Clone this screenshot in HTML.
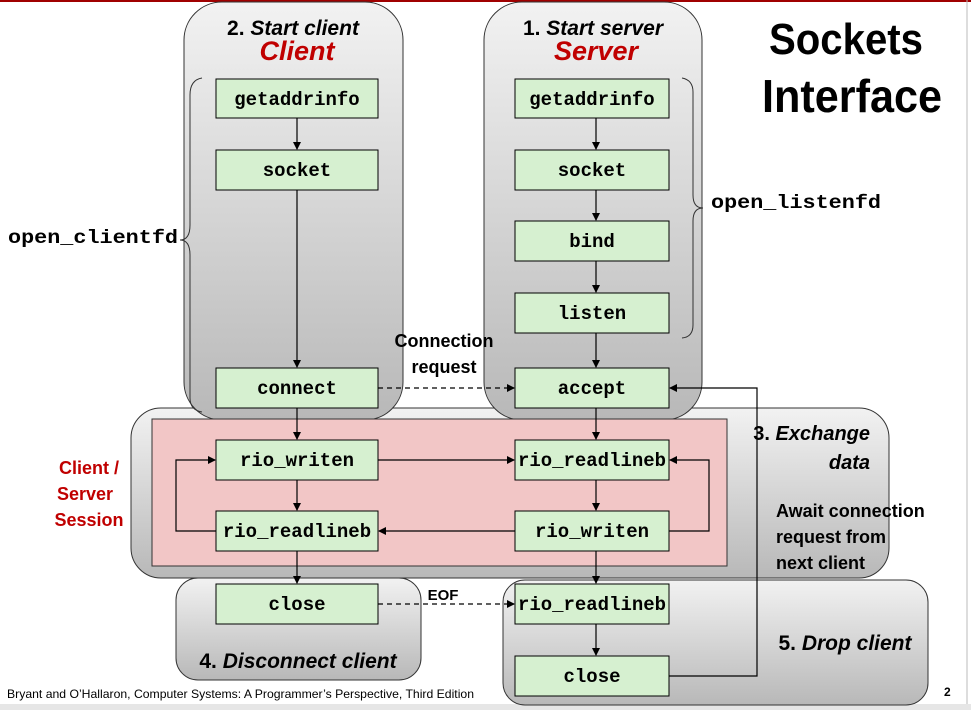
<!DOCTYPE html>
<html><head><meta charset="utf-8"><style>
html,body{margin:0;padding:0;background:#fff}
svg{display:block}
.m{font-family:"Liberation Mono",monospace;font-weight:bold;font-size:19px;fill:#000}
.s{font-family:"Liberation Sans",sans-serif;font-weight:bold;fill:#000}
</style></head><body>
<svg width="971" height="710" viewBox="0 0 971 710" xmlns="http://www.w3.org/2000/svg">
<defs>
<linearGradient id="g" x1="0" y1="0" x2="0" y2="1">
<stop offset="0" stop-color="#f2f2f2"/><stop offset="1" stop-color="#b8b8b8"/>
</linearGradient>
<marker id="a" markerWidth="8" markerHeight="8" refX="7" refY="4" orient="auto" markerUnits="userSpaceOnUse">
<path d="M0,0 L8,4 L0,8 z" fill="#000"/></marker>
</defs>
<rect x="0" y="0" width="971" height="2" fill="#a00000"/>
<rect x="0" y="704" width="971" height="6" fill="#e6e6e6"/>
<line x1="967" y1="0" x2="967" y2="704" stroke="#bbb"/>

<rect x="131" y="408" width="758" height="170" rx="30" fill="url(#g)" stroke="#333"/>
<rect x="184" y="2" width="219" height="418" rx="38" fill="url(#g)" stroke="#333"/>
<rect x="484" y="2" width="218" height="418" rx="38" fill="url(#g)" stroke="#333"/>
<rect x="152" y="419" width="575" height="147" fill="#f2c6c6" stroke="#333"/>
<rect x="176" y="578" width="245" height="102" rx="22" fill="url(#g)" stroke="#333"/>
<rect x="503" y="580" width="425" height="125" rx="22" fill="url(#g)" stroke="#333"/>

<text x="293" y="35" class="s" font-size="21" text-anchor="middle">2. <tspan font-style="italic">Start client</tspan></text>
<text x="297" y="60" class="s" font-size="27" font-style="italic" style="fill:#c00000" text-anchor="middle">Client</text>
<text x="593" y="35" class="s" font-size="21" text-anchor="middle">1. <tspan font-style="italic">Start server</tspan></text>
<text x="596" y="60" class="s" font-size="27" font-style="italic" style="fill:#c00000" text-anchor="middle">Server</text>
<text x="846" y="54" class="s" font-size="44" text-anchor="middle" textLength="154" lengthAdjust="spacingAndGlyphs">Sockets</text>
<text x="852" y="112" class="s" font-size="46" text-anchor="middle" textLength="180" lengthAdjust="spacingAndGlyphs">Interface</text>

<path d="M202,78 Q190,80 190,95 L190,225 Q190,240 180,240 Q190,240 190,255 L190,398 Q190,410 202,412" fill="none" stroke="#333"/>
<path d="M682,78 Q693,80 693,92 L693,195 Q693,208 703,208 Q693,208 693,221 L693,325 Q693,337 682,338" fill="none" stroke="#333"/>
<text x="8" y="243" class="m" font-size="21" textLength="170" lengthAdjust="spacingAndGlyphs">open_clientfd</text>
<text x="711" y="208" class="m" font-size="21" textLength="170" lengthAdjust="spacingAndGlyphs">open_listenfd</text>

<text x="89" y="474" class="s" font-size="18" style="fill:#c00000" text-anchor="middle">Client /</text>
<text x="85" y="500" class="s" font-size="18" style="fill:#c00000" text-anchor="middle">Server</text>
<text x="89" y="526" class="s" font-size="18" style="fill:#c00000" text-anchor="middle">Session</text>
<text x="444" y="347" class="s" font-size="18" text-anchor="middle">Connection</text>
<text x="444" y="373" class="s" font-size="18" text-anchor="middle">request</text>
<text x="870" y="440" class="s" font-size="20" text-anchor="end">3. <tspan font-style="italic">Exchange</tspan></text>
<text x="870" y="469" class="s" font-size="20" font-style="italic" text-anchor="end">data</text>
<text x="776" y="517" class="s" font-size="18">Await connection</text>
<text x="776" y="543" class="s" font-size="18">request from</text>
<text x="776" y="569" class="s" font-size="18">next client</text>
<text x="443" y="600" class="s" font-size="15" text-anchor="middle">EOF</text>
<text x="298" y="668" class="s" font-size="21" text-anchor="middle">4. <tspan font-style="italic">Disconnect client</tspan></text>
<text x="845" y="650" class="s" font-size="21" text-anchor="middle">5. <tspan font-style="italic">Drop client</tspan></text>
<text x="7" y="698" font-family="Liberation Sans,sans-serif" font-size="12" textLength="467" lengthAdjust="spacingAndGlyphs">Bryant and O’Hallaron, Computer Systems: A Programmer’s Perspective, Third Edition</text>
<text x="944" y="696" class="s" font-size="12">2</text>

<g stroke="#000" stroke-width="1.2" fill="none">
<line x1="297" y1="118" x2="297" y2="149" marker-end="url(#a)"/>
<line x1="297" y1="190" x2="297" y2="367" marker-end="url(#a)"/>
<line x1="297" y1="408" x2="297" y2="439" marker-end="url(#a)"/>
<line x1="297" y1="480" x2="297" y2="510" marker-end="url(#a)"/>
<line x1="297" y1="551" x2="297" y2="583" marker-end="url(#a)"/>
<line x1="596" y1="118" x2="596" y2="149" marker-end="url(#a)"/>
<line x1="596" y1="190" x2="596" y2="220" marker-end="url(#a)"/>
<line x1="596" y1="261" x2="596" y2="292" marker-end="url(#a)"/>
<line x1="596" y1="333" x2="596" y2="367" marker-end="url(#a)"/>
<line x1="596" y1="408" x2="596" y2="439" marker-end="url(#a)"/>
<line x1="596" y1="480" x2="596" y2="510" marker-end="url(#a)"/>
<line x1="596" y1="551" x2="596" y2="583" marker-end="url(#a)"/>
<line x1="596" y1="624" x2="596" y2="655" marker-end="url(#a)"/>
<line x1="378" y1="460" x2="514" y2="460" marker-end="url(#a)"/>
<line x1="515" y1="531" x2="379" y2="531" marker-end="url(#a)"/>
<polyline points="216,531 176,531 176,460 215,460" marker-end="url(#a)"/>
<polyline points="669,531 709,531 709,460 670,460" marker-end="url(#a)"/>
<polyline points="669,676 757,676 757,388 670,388" marker-end="url(#a)"/>
<line x1="378" y1="388" x2="514" y2="388" stroke-dasharray="5,4" marker-end="url(#a)"/>
<line x1="378" y1="604" x2="514" y2="604" stroke-dasharray="5,4" marker-end="url(#a)"/>
</g>

<g fill="#d6f0d0" stroke="#000">
<rect x="216" y="79" width="162" height="39"/>
<rect x="216" y="150" width="162" height="40"/>
<rect x="216" y="368" width="162" height="40"/>
<rect x="216" y="440" width="162" height="40"/>
<rect x="216" y="511" width="162" height="40"/>
<rect x="216" y="584" width="162" height="40"/>
<rect x="515" y="79" width="154" height="39"/>
<rect x="515" y="150" width="154" height="40"/>
<rect x="515" y="221" width="154" height="40"/>
<rect x="515" y="293" width="154" height="40"/>
<rect x="515" y="368" width="154" height="40"/>
<rect x="515" y="440" width="154" height="40"/>
<rect x="515" y="511" width="154" height="40"/>
<rect x="515" y="584" width="154" height="40"/>
<rect x="515" y="656" width="154" height="40"/>
</g>
<g text-anchor="middle">
<text x="297" y="105" class="m">getaddrinfo</text>
<text x="297" y="176" class="m">socket</text>
<text x="297" y="394" class="m">connect</text>
<text x="297" y="466" class="m">rio_writen</text>
<text x="297" y="537" class="m">rio_readlineb</text>
<text x="297" y="610" class="m">close</text>
<text x="592" y="105" class="m">getaddrinfo</text>
<text x="592" y="176" class="m">socket</text>
<text x="592" y="247" class="m">bind</text>
<text x="592" y="319" class="m">listen</text>
<text x="592" y="394" class="m">accept</text>
<text x="592" y="466" class="m" textLength="148" lengthAdjust="spacingAndGlyphs">rio_readlineb</text>
<text x="592" y="537" class="m">rio_writen</text>
<text x="592" y="610" class="m" textLength="148" lengthAdjust="spacingAndGlyphs">rio_readlineb</text>
<text x="592" y="682" class="m">close</text>
</g>
</svg>
</body></html>
